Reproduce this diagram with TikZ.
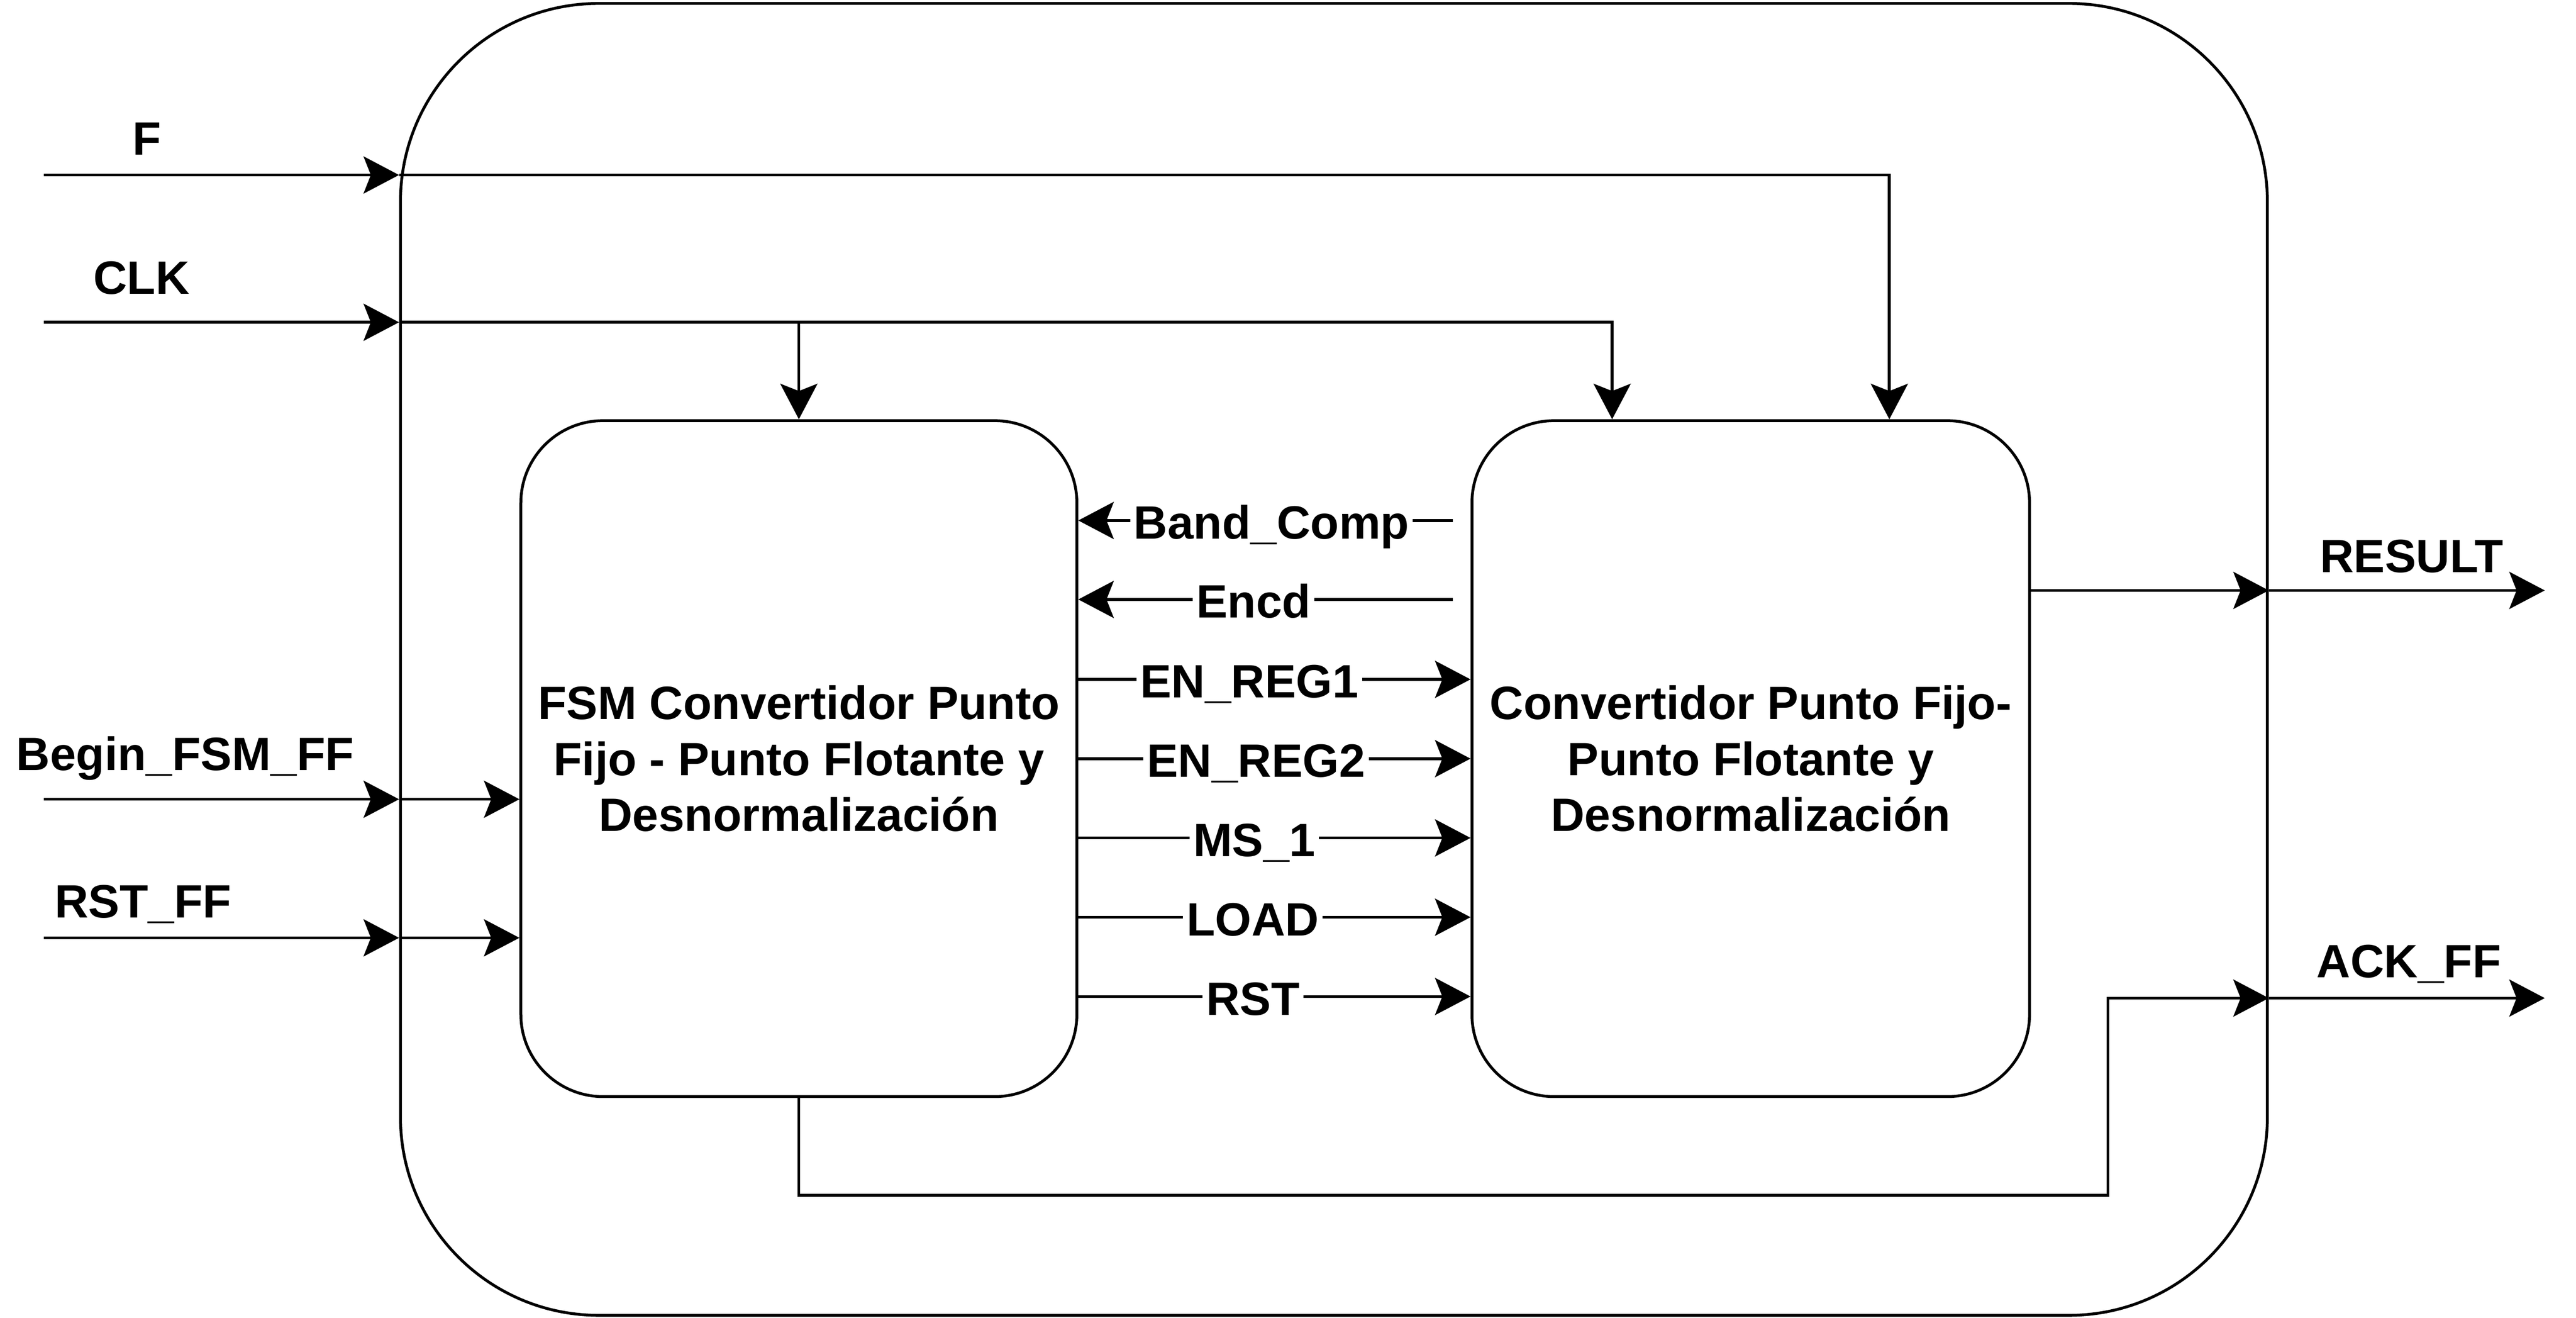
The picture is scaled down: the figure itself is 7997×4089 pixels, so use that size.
\documentclass[tikz,border=0pt]{standalone}
\usepackage{fontspec}
\setmainfont{Liberation Sans}
\usetikzlibrary{arrows.meta}

\begin{document}
\begin{tikzpicture}[x=0.004cm,y=-0.004cm,
  font=\fontsize{16.5}{19.7}\selectfont\bfseries,
  >={Stealth[length=4.4mm,width=4.6mm,inset=0.9mm]},
  wire/.style={draw,line width=1pt},
  block/.style={draw,line width=1pt,rounded corners=1.02cm,minimum width=6.9cm,minimum height=8.384cm,align=center,inner sep=0pt},
  sig/.style={fill=white,inner xsep=1.3pt,inner ysep=2pt,anchor=base,yshift=-0.23cm},
  pin/.style={anchor=base}]
\useasboundingbox (0,0) rectangle (7997,4089);

\node[draw,line width=1pt,rounded corners=2.46cm,minimum width=23.168cm,minimum height=16.272cm] (chip) at (4141,2046) {};
\node[block] (fsm) at (2480,2354) {FSM Convertidor Punto\\Fijo - Punto Flotante y\\Desnormalización};
\node[block,minimum width=6.92cm] (conv) at (5435,2354) {Convertidor Punto Fijo-\\Punto Flotante y\\Desnormalización};

% entradas
\node[pin] (lf) at (456,480) {F};
\node[pin] (lclk) at (439,912) {CLK};
\node[pin] (lbegin) at (575,2391) {Begin\_FSM\_FF};
\node[pin] (lrst) at (444,2847) {RST\_FF};
\coordinate (f0) at (136,543);
\coordinate (clk0) at (136,1000);
\coordinate (bg0) at (136,2480);
\coordinate (rst0) at (136,2910);

\path[wire,->] (f0) -- (f0 -| chip.west);
\path[wire,->] (f0 -| chip.west) -| ([xshift=1.72cm]conv.north);
\path[wire,->] (clk0) -- (clk0 -| chip.west);
\path[wire,->] (clk0 -| chip.west) -| ([xshift=-1.72cm]conv.north);
\path[wire,->] (fsm.north |- clk0) -- (fsm.north);
\path[wire,->] (bg0) -- (bg0 -| chip.west);
\path[wire,->] (bg0 -| chip.west) -- (bg0 -| fsm.west);
\path[wire,->] (rst0) -- (rst0 -| chip.west);
\path[wire,->] (rst0 -| chip.west) -- (rst0 -| fsm.west);

% senales internas
\coordinate (bc) at (4510,1615);
\coordinate (enc) at (4510,1860);
\coordinate (r1) at (0,2108);
\coordinate (r2) at (0,2354);
\coordinate (ms) at (0,2600);
\coordinate (ld) at (0,2846);
\coordinate (rs) at (0,3092);
\path[wire,->] (bc) -- (bc -| fsm.east) node[sig,pos=0.484] {Band\_Comp};
\path[wire,->] (enc) -- (enc -| fsm.east) node[sig,pos=0.532] {Encd};
\path[wire,->] (r1 -| fsm.east) -- (r1 -| conv.west) node[sig,pos=0.436] {EN\_REG1};
\path[wire,->] (r2 -| fsm.east) -- (r2 -| conv.west) node[sig,pos=0.453] {EN\_REG2};
\path[wire,->] (ms -| fsm.east) -- (ms -| conv.west) node[sig,pos=0.449] {MS\_1};
\path[wire,->] (ld -| fsm.east) -- (ld -| conv.west) node[sig,pos=0.445] {LOAD};
\path[wire,->] (rs -| fsm.east) -- (rs -| conv.west) node[sig,pos=0.445] {RST};

% salidas
\node[pin] (lres) at (7487,1776) {RESULT};
\node[pin] (lack) at (7478,3033) {ACK\_FF};
\coordinate (res) at (7900,1832);
\coordinate (ack) at (7900,3097);
\coordinate (ackb) at (6544,3709);
\path[wire,->] (res -| conv.east) -- (res -| chip.east);
\path[wire,->] (res -| chip.east) -- (res);
\path[wire,->] (fsm.south) |- (ackb) |- (ack -| chip.east);
\path[wire,->] (ack -| chip.east) -- (ack);
\end{tikzpicture}
\end{document}
